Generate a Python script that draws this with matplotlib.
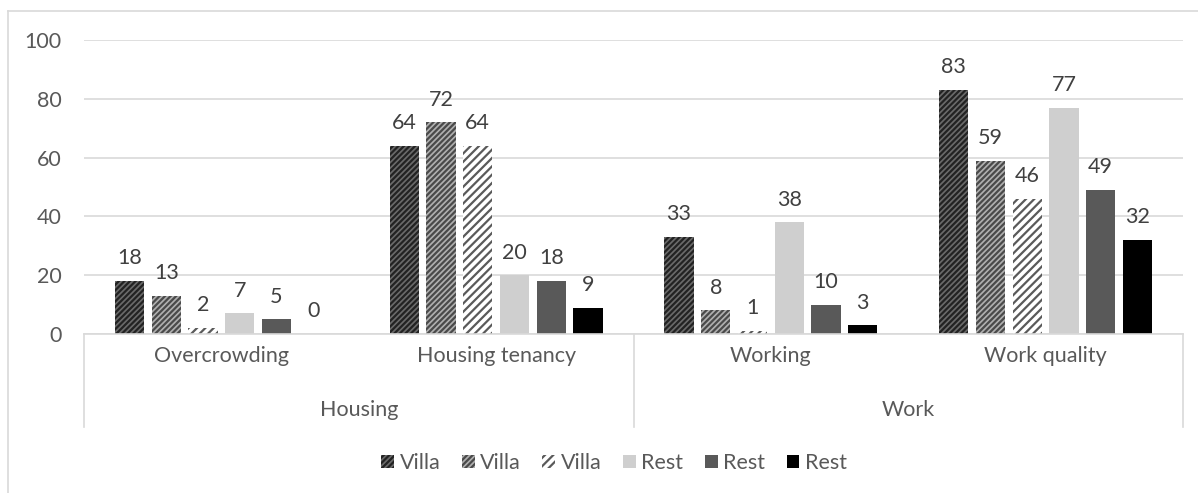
import numpy as np
import matplotlib
matplotlib.use("Agg")
import matplotlib.pyplot as plt
from matplotlib.patches import Patch

# chart data
categories = ["Overcrowding", "Housing tenancy", "Working", "Work quality"]
groups = ["Housing", "Work"]
series_names = ["Villa", "Villa", "Villa", "Rest", "Rest", "Rest"]
villa_1 = [18, 64, 33, 83]
villa_2 = [13, 72, 8, 59]
villa_3 = [2, 64, 1, 46]
rest_1 = [7, 20, 38, 77]
rest_2 = [5, 18, 10, 49]
rest_3 = [0, 9, 3, 32]
series = [villa_1, villa_2, villa_3, rest_1, rest_2, rest_3]

# face colour, hatch colour, hatch pattern per series
styles = [
    ("#6a6a6a", "#222222", "//////"),
    ("#b0b0b0", "#4a4a4a", "//////"),
    ("#ffffff", "#5a5a5a", "////"),
    ("#cfcfcf", None, ""),
    ("#595959", None, ""),
    ("#000000", None, ""),
]

plt.rcParams["font.family"] = ["Lato", "DejaVu Sans"]
plt.rcParams["hatch.linewidth"] = 1.6
txt = "#595959"
grid = "#d9d9d9"
fs = 15.5

W, H = 1198, 493
fig = plt.figure(figsize=(W / 100, H / 100), dpi=100)
left, right, top, base = 84, 1183, 40, 334
ax = fig.add_axes([left / W, 1 - base / H, (right - left) / W, (base - top) / H])

x = np.arange(len(categories))
slot = 0.1337
bw = 0.106
for i, (vals, (fc, hc, hatch)) in enumerate(zip(series, styles)):
    pos = x + (i - 2.5) * slot
    if hatch:
        ax.bar(pos, vals, bw, facecolor=fc, edgecolor=hc, hatch=hatch, linewidth=0)
    else:
        ax.bar(pos, vals, bw, color=fc, linewidth=0)
    for p, v in zip(pos, vals):
        ax.annotate(str(v), (p, v), xytext=(0, 12), textcoords="offset points",
                    ha="center", va="baseline", fontsize=fs, color="#404040")

ax.set_xlim(-0.5, 3.5)
ax.set_ylim(0, 100)
ax.set_yticks(range(0, 101, 20))
ax.yaxis.grid(True, color=grid, linewidth=1.2)
ax.set_axisbelow(True)
for s in ["top", "right", "left"]:
    ax.spines[s].set_visible(False)
ax.spines["bottom"].set_color(grid)
ax.spines["bottom"].set_linewidth(1.2)
ax.tick_params(axis="y", length=0, pad=16, labelsize=fs, labelcolor=txt)
ax.tick_params(axis="x", length=0, pad=9, labelsize=fs, labelcolor=txt)
ax.set_xticks(x, categories)

# two-level category axis: separators and group labels
ph = base - top
trans = ax.get_xaxis_transform()
for xs in [-0.5, 1.5, 3.5]:
    ax.plot([xs, xs], [0, -(427 - base) / ph], transform=trans, color=grid,
            linewidth=1.2, clip_on=False)
for gi, g in enumerate(groups):
    ax.text(2 * gi + 0.5, -(410 - base) / ph, g, transform=trans, ha="center",
            va="center", fontsize=fs, color=txt)

# legend
handles = [Patch(facecolor=fc, edgecolor=hc if hc else fc, hatch=hatch, linewidth=0)
           for fc, hc, hatch in styles]
fig.legend(handles, series_names, loc="center", bbox_to_anchor=(614 / W, 1 - 463 / H),
           ncol=6, frameon=False, fontsize=fs, labelcolor=txt,
           handlelength=0.6, handleheight=0.6, handletextpad=0.25, columnspacing=1.0)

# outer chart border (left and top edges)
fig.add_artist(plt.Line2D([8 / W, 8 / W], [0, 1 - 11 / H], transform=fig.transFigure,
                          color=grid, linewidth=1.2))
fig.add_artist(plt.Line2D([8 / W, 1], [1 - 11 / H, 1 - 11 / H], transform=fig.transFigure,
                          color=grid, linewidth=1.2))

fig.savefig("out.png", dpi=100)
